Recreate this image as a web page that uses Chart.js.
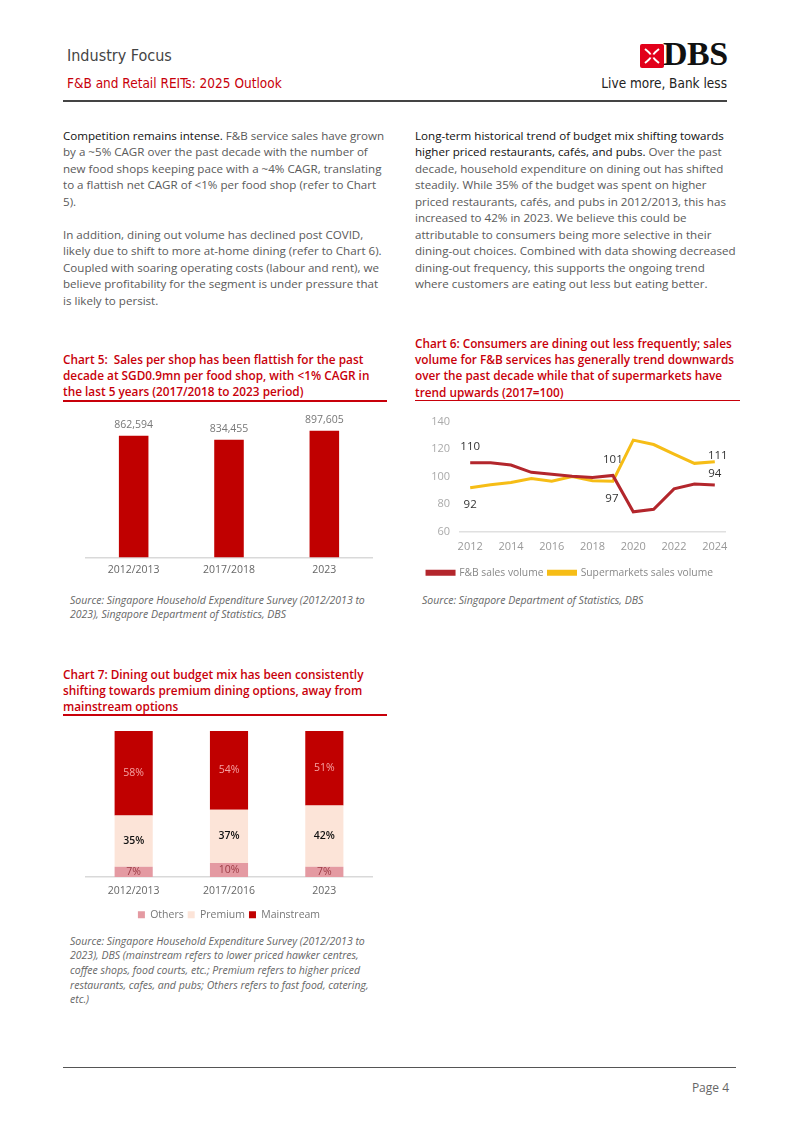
<!DOCTYPE html>
<html>
<head>
<meta charset="utf-8">
<script src="https://cdn.jsdelivr.net/npm/chart.js@4.4.0/dist/chart.umd.min.js"></script>
<style>
  html, body { margin: 0; padding: 0; background: #fff; }
  body { width: 800px; height: 1130px; position: relative; overflow: hidden; font-family: "Open Sans", sans-serif; }
  .abs { position: absolute; white-space: nowrap; }
  .narrow { font-family: "Liberation Sans Narrow", "DejaVu Sans Condensed", "Open Sans", sans-serif; font-stretch: condensed; }
  .body { font-size: 11.6px; line-height: 16.5px; color: #5a5a5a; }
  .lead { color: #111; }
  .ctitle { font-size: 11.8px; line-height: 16.2px; font-weight: 600; color: #c8000a; }
  .rule { position: absolute; height: 1.5px; background: #c8000a; }
  .src { font-size: 10.5px; line-height: 14.8px; font-style: italic; color: #666; }
  canvas { position: absolute; }
</style>
</head>
<body>

<!-- header -->
<div class="abs narrow" style="left:67px; top:46px; font-size:16px; color:#444;">Industry Focus</div>
<div class="abs narrow" style="left:67px; top:75px; font-size:13.5px; color:#c8000a;">F&amp;B and Retail REITs: 2025 Outlook</div>
<svg class="abs" style="left:640px; top:44px;" width="24" height="24" viewBox="0 0 24 24">
  <rect x="0" y="0" width="24" height="24" rx="2" fill="#e2001a"/>
  <path d="M5 5 Q10 9 10.5 10.5 M19 5 Q14 9 13.5 10.5 M5 19 Q10 15 10.5 13.5 M19 19 Q14 15 13.5 13.5" stroke="#fff" stroke-width="2" fill="none"/>
</svg>
<div class="abs" style="left:663px; top:35px; font-family:'Liberation Serif', serif; font-weight:bold; font-size:34px; color:#111; letter-spacing:-0.5px;">DBS</div>
<div class="abs narrow" style="right:73px; top:75px; font-size:13.5px; color:#222;">Live more, Bank less</div>
<div class="abs" style="left:63px; top:100px; width:664px; height:2px; background:#444;"></div>

<!-- body text -->
<div class="abs body" style="left:63px; top:127.5px;">
<span class="lead">Competition remains intense.</span> F&amp;B service sales have grown<br>
by a ~5% CAGR over the past decade with the number of<br>
new food shops keeping pace with a ~4% CAGR, translating<br>
to a flattish net CAGR of &lt;1% per food shop (refer to Chart<br>
5).<br>
<br>
In addition, dining out volume has declined post COVID,<br>
likely due to shift to more at-home dining (refer to Chart 6).<br>
Coupled with soaring operating costs (labour and rent), we<br>
believe profitability for the segment is under pressure that<br>
is likely to persist.
</div>
<div class="abs body" style="left:415px; top:127.5px;">
<span class="lead">Long-term historical trend of budget mix shifting towards</span><br>
<span class="lead">higher priced restaurants, cafés, and pubs.</span> Over the past<br>
decade, household expenditure on dining out has shifted<br>
steadily. While 35% of the budget was spent on higher<br>
priced restaurants, cafés, and pubs in 2012/2013, this has<br>
increased to 42% in 2023. We believe this could be<br>
attributable to consumers being more selective in their<br>
dining-out choices. Combined with data showing decreased<br>
dining-out frequency, this supports the ongoing trend<br>
where customers are eating out less but eating better.
</div>

<!-- chart 5 -->
<div class="abs ctitle" style="left:63px; top:351px;">
Chart 5:&nbsp; Sales per shop has been flattish for the past<br>
decade at SGD0.9mn per food shop, with &lt;1% CAGR in<br>
the last 5 years (2017/2018 to 2023 period)
</div>
<div class="rule" style="left:63px; top:400px; width:324px;"></div>
<canvas id="chart5" width="325" height="182" style="left:63px; top:405px;"></canvas>
<div class="abs src" style="left:70px; top:592.5px;">
Source: Singapore Household Expenditure Survey (2012/2013 to<br>
2023), Singapore Department of Statistics, DBS
</div>

<!-- chart 6 -->
<div class="abs ctitle" style="left:415px; top:335px;">
Chart 6: Consumers are dining out less frequently; sales<br>
volume for F&amp;B services has generally trend downwards<br>
over the past decade while that of supermarkets have<br>
trend upwards (2017=100)
</div>
<div class="rule" style="left:415px; top:399.5px; width:325px;"></div>
<canvas id="chart6" width="325" height="183" style="left:415px; top:405px;"></canvas>
<div class="abs src" style="left:422px; top:592.5px;">Source: Singapore Department of Statistics, DBS</div>

<!-- chart 7 -->
<div class="abs ctitle" style="left:63px; top:666px;">
Chart 7: Dining out budget mix has been consistently<br>
shifting towards premium dining options, away from<br>
mainstream options
</div>
<div class="rule" style="left:63px; top:714px; width:324px;"></div>
<canvas id="chart7" width="325" height="212" style="left:63px; top:720px;"></canvas>
<div class="abs src" style="left:70px; top:933.5px; line-height:14.7px;">
Source: Singapore Household Expenditure Survey (2012/2013 to<br>
2023), DBS (mainstream refers to lower priced hawker centres,<br>
coffee shops, food courts, etc.; Premium refers to higher priced<br>
restaurants, cafes, and pubs; Others refers to fast food, catering,<br>
etc.)
</div>

<!-- footer -->
<div class="abs" style="left:63px; top:1067px; width:673px; height:1px; background:#555;"></div>
<div class="abs" style="right:71px; top:1079px; font-size:12px; color:#666;">Page 4</div>

<script>
// ---- data ----
const shopPeriods = ['2012/2013', '2017/2018', '2023'];
const salesPerShop = [862594, 834455, 897605];

const volYears = ['2012','2013','2014','2015','2016','2017','2018','2019','2020','2021','2022','2023','2024'];
const fbVolume    = [110, 110, 108.4, 103.1, 101.7, 100.3, 99.4, 100.8, 74.3, 76.2, 91, 94.5, 93.8];
const superVolume = [91.8, 94, 95.7, 98.5, 96.6, 100, 97, 96.6, 126.5, 123.3, 116.3, 109.6, 110.8];
const volTicks = [60, 80, 100, 120, 140];

const mixPeriods = ['2012/2013', '2017/2016', '2023'];
const mixOthers = [7, 9.5, 7];
const mixPremium = [35, 36.5, 42];
const mixMainstream = [58, 54, 51];

const RED = '#c00000';
const FONT = 'Open Sans';
Chart.defaults.font.family = FONT;
Chart.defaults.devicePixelRatio = 1;
Chart.defaults.animation = false;

// draws value text for bars/points
const valueLabels = {
    id: 'valueLabels',
    afterDatasetsDraw(chart, args, opts) {
        const ctx = chart.ctx;
        ctx.save();
        ctx.textAlign = 'center';
        ctx.textBaseline = 'middle';
        (opts.items || []).forEach(it => {
            const meta = chart.getDatasetMeta(it.ds);
            const el = meta.data[it.i];
            const v = chart.data.datasets[it.ds].data[it.i];
            let y = el.y + (it.dy || 0);
            if (it.mid) y = (el.y + el.base) / 2;
            ctx.font = (it.weight || 'normal') + ' ' + (it.size || 11) + 'px "' + FONT + '"';
            ctx.fillStyle = it.color || '#333';
            ctx.fillText(it.fmt ? it.fmt(v) : v, el.x + (it.dx || 0), y);
        });
        ctx.restore();
    }
};

// ---- chart 5 ----
new Chart(document.getElementById('chart5'), {
    type: 'bar',
    data: {
        labels: shopPeriods,
        datasets: [{ data: salesPerShop, backgroundColor: RED, barPercentage: 0.31, categoryPercentage: 1 }]
    },
    options: {
        responsive: false,
        layout: { padding: { left: 23, right: 16, top: 11.4, bottom: 5 } },
        plugins: {
            legend: { display: false }, tooltip: { enabled: false },
            valueLabels: {
                items: salesPerShop.map((v, i) => ({ ds: 0, i, dy: -11, color: '#777', size: 10.5,
                    fmt: x => x.toLocaleString('en-US') }))
            }
        },
        scales: {
            x: { grid: { display: false, drawTicks: false }, border: { color: '#d9d9d9', width: 1.5 },
                 ticks: { color: '#666', font: { size: 10.5 }, padding: 6 } },
            y: { display: false, min: 0, max: 1000000 }
        }
    },
    plugins: [valueLabels]
});

// ---- chart 6 ----
const pct = v => Math.round(v);
new Chart(document.getElementById('chart6'), {
    type: 'line',
    data: {
        labels: volYears,
        datasets: [
            { label: 'F&B sales volume', data: fbVolume, borderColor: '#b3262c', backgroundColor: '#b3262c',
              borderWidth: 3, pointRadius: 0, tension: 0 },
            { label: 'Supermarkets sales volume', data: superVolume, borderColor: '#f6bd16', backgroundColor: '#f6bd16',
              borderWidth: 3, pointRadius: 0, tension: 0 }
        ]
    },
    options: {
        responsive: false,
        layout: { padding: { left: 0, right: 15, top: 11, bottom: 0 } },
        plugins: {
            tooltip: { enabled: false },
            legend: {
                position: 'bottom',
                labels: { boxWidth: 27, boxHeight: 3, color: '#888', font: { size: 10.3 }, padding: 5 }
            },
            valueLabels: {
                items: [
                    { ds: 0, i: 0, dy: -16, fmt: pct, size: 11.5 },
                    { ds: 1, i: 0, dy: 17, fmt: pct, size: 11.5 },
                    { ds: 0, i: 7, dy: -16, fmt: pct, size: 11.5 },
                    { ds: 1, i: 7, dy: 17, dx: -1, fmt: pct, size: 11.5 },
                    { ds: 1, i: 12, dy: -6, dx: 3, fmt: pct, size: 11.5 },
                    { ds: 0, i: 12, dy: -11, fmt: pct, size: 11.5 }
                ]
            }
        },
        scales: {
            x: { offset: true, grid: { display: false, drawTicks: false }, border: { color: '#e0e0e0', width: 1.5 },
                 ticks: { color: '#999', font: { size: 11 }, padding: 9, autoSkip: false, maxRotation: 0,
                          callback: (v, i) => i % 2 === 0 ? volYears[i] : '' } },
            y: { min: 60, max: 140, grid: { display: false, drawTicks: false }, border: { display: false },
                 afterBuildTicks: s => { s.ticks = volTicks.map(v => ({ value: v })); },
                 afterFit: s => { s.width = 45; },
                 ticks: { color: '#aaa', font: { size: 11 }, padding: 10 } }
        }
    },
    plugins: [valueLabels]
});

// ---- chart 7 ----
const mixLbl = (ds, color, weight) => [0, 1, 2].map(i => ({ ds, i, mid: true, color, weight, size: 10.5, fmt: v => Math.round(v) + '%' }));
new Chart(document.getElementById('chart7'), {
    type: 'bar',
    data: {
        labels: mixPeriods,
        datasets: [
            { label: 'Others', data: mixOthers, backgroundColor: '#e49aa2' },
            { label: 'Premium', data: mixPremium, backgroundColor: '#fce4d8' },
            { label: 'Mainstream', data: mixMainstream, backgroundColor: RED }
        ].map(d => Object.assign(d, { barPercentage: 0.4, categoryPercentage: 1 }))
    },
    options: {
        responsive: false,
        layout: { padding: { left: 23, right: 16, top: 11, bottom: 2 } },
        plugins: {
            tooltip: { enabled: false },
            legend: {
                position: 'bottom',
                labels: { boxWidth: 7, boxHeight: 7, color: '#777', font: { size: 10.5 }, padding: 4 }
            },
            valueLabels: {
                items: [].concat(mixLbl(0, '#9c3b44'), mixLbl(1, '#111', '600'), mixLbl(2, '#f5a3a3'))
            }
        },
        scales: {
            x: { stacked: true, grid: { display: false, drawTicks: false }, border: { color: '#d9d9d9', width: 1.5 },
                 ticks: { color: '#666', font: { size: 10.5 }, padding: 8 } },
            y: { stacked: true, display: false, min: 0, max: 100 }
        }
    },
    plugins: [valueLabels]
});
</script>
</body>
</html>
